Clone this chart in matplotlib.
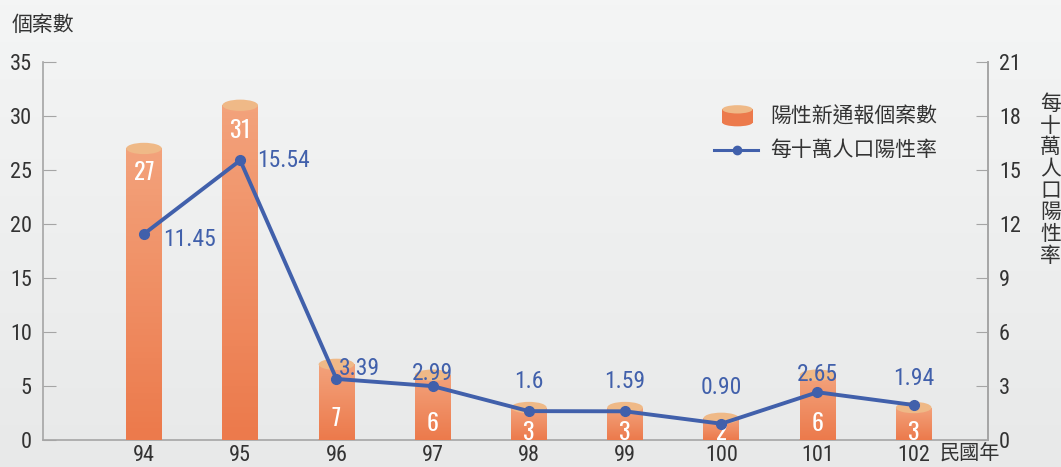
import matplotlib.pyplot as plt
import numpy as np
from matplotlib.colors import LinearSegmentedColormap
from matplotlib.patches import Ellipse, Rectangle
from matplotlib.lines import Line2D

plt.rcParams['font.family'] = ['Noto Sans CJK TC', 'DejaVu Sans']
NUM_FONT = ['Roboto Condensed', 'Archivo Narrow', 'DejaVu Sans']
BAR_FONT = ['Oswald', 'Roboto Condensed', 'Archivo Narrow', 'DejaVu Sans']

years = ['94', '95', '96', '97', '98', '99', '100', '101', '102']
cases = [27, 31, 7, 6, 3, 3, 2, 6, 3]
rate = [11.45, 15.54, 3.39, 2.99, 1.6, 1.59, 0.90, 2.65, 1.94]
rate_labels = ['11.45', '15.54', '3.39', '2.99', '1.6', '1.59', '0.90', '2.65', '1.94']

bar_top = '#efb987'
bar_light = '#f3a27b'
bar_dark = '#ec7a4c'
line_col = '#4160ab'
axis_col = '#a5a5a5'
txt_col = '#333333'

fig = plt.figure(figsize=(10.61, 4.67), dpi=100)
# background gradient
bg = fig.add_axes([0, 0, 1, 1], zorder=-10)
bg.imshow(np.linspace(0, 1, 100).reshape(-1, 1),
          cmap=LinearSegmentedColormap.from_list('bg', ['#f4f5f5', '#e8e9e9']),
          aspect='auto', extent=[0, 1, 0, 1], origin='upper')
bg.axis('off')

ax = fig.add_axes([0.0405, 0.058, 0.8905, 0.809])
ax.patch.set_alpha(0)
x = np.arange(len(years))
w = 0.37
eh = 1.05
grad = LinearSegmentedColormap.from_list('bar', [bar_dark, bar_light])
label_y = {27: 24.8, 31: 28.7, 7: 2.0, 6: 1.5, 3: 0.65, 2: 0.65}

for xi, v in zip(x, cases):
    ax.add_patch(Ellipse((xi, 0), w, eh, color=bar_dark, zorder=3, lw=0))
    rect = Rectangle((xi - w / 2, 0), w, v, lw=0, facecolor='none')
    ax.add_patch(rect)
    im = ax.imshow(np.linspace(0, 1, 50).reshape(-1, 1), cmap=grad, aspect='auto',
                   extent=[xi - w / 2, xi + w / 2, 0, v], origin='lower', zorder=3)
    im.set_clip_path(rect)
    ax.add_patch(Ellipse((xi, v), w, eh, color=bar_top, zorder=4, lw=0))
    ax.text(xi, label_y[v], str(v), color='white', ha='center', va='center',
            fontsize=17, fontweight='bold', family=BAR_FONT, zorder=5)

ax.set_xlim(-1.05, 8.77)
ax.set_ylim(0, 35)
ax.set_yticks(range(0, 36, 5))
ax.set_xticks(x)
ax.set_xticklabels(years)
ax.spines['top'].set_visible(False)
for s in ['left', 'right', 'bottom']:
    ax.spines[s].set_color(axis_col)
    ax.spines[s].set_linewidth(1.2)
ax.tick_params(axis='y', direction='in', length=9, color=axis_col, pad=8, labelsize=16, labelcolor=txt_col)
ax.tick_params(axis='x', length=0, pad=4, labelsize=16, labelcolor=txt_col)
for lab in ax.get_xticklabels() + ax.get_yticklabels():
    lab.set_family(NUM_FONT)

ax2 = ax.twinx()
ax2.set_ylim(0, 21)
ax2.set_yticks(range(0, 22, 3))
for s in ['top', 'left', 'bottom']:
    ax2.spines[s].set_visible(False)
ax2.spines['right'].set_color(axis_col)
ax2.spines['right'].set_linewidth(1.2)
ax2.tick_params(axis='y', direction='in', length=9, color=axis_col, pad=8, labelsize=16, labelcolor=txt_col)
for lab in ax2.get_yticklabels():
    lab.set_family(NUM_FONT)
ax2.plot(x, rate, color=line_col, lw=2.8, marker='o', ms=7, zorder=6)

offsets = [(0.2, 'left', -0.3), (0.18, 'left', 0.0), (0.03, 'left', 0.6), (0, 'center', 0.7),
           (0, 'center', 1.65), (0, 'center', 1.65), (0, 'center', 2.0), (0, 'center', 1.0),
           (0, 'center', 1.5)]
for xi, r, lab, (dx, ha, dy) in zip(x, rate, rate_labels, offsets):
    ax2.text(xi + dx, r + dy, lab, color=line_col, ha=ha, va='center',
             fontsize=17, family=NUM_FONT, zorder=7)

# legend
lx, ly = 0.735, 0.875
ax.add_patch(Rectangle((lx - 0.016, ly - 0.035), 0.032, 0.035, transform=ax.transAxes,
                       color=bar_dark, lw=0, zorder=5, clip_on=False))
ax.add_patch(Ellipse((lx, ly - 0.035), 0.032, 0.02, transform=ax.transAxes,
                     color=bar_dark, lw=0, zorder=5, clip_on=False))
ax.add_patch(Ellipse((lx, ly), 0.032, 0.022, transform=ax.transAxes,
                     color=bar_top, lw=0, zorder=6, clip_on=False))
ax.text(lx + 0.035, ly - 0.02, '陽性新通報個案數', transform=ax.transAxes, fontsize=15,
        color=txt_col, va='center')
ax.add_line(Line2D([lx - 0.025, lx + 0.022], [ly - 0.107, ly - 0.107], transform=ax.transAxes,
                   color=line_col, lw=2.2, zorder=6))
ax.add_line(Line2D([lx], [ly - 0.107], transform=ax.transAxes, color=line_col, marker='o', ms=6, zorder=6))
ax.text(lx + 0.035, ly - 0.107, '每十萬人口陽性率', transform=ax.transAxes, fontsize=15,
        color=txt_col, va='center')

fig.text(0.011, 0.946, '個案數', fontsize=15, color=txt_col, va='center')
fig.text(0.886, 0.004, '民國年', fontsize=14.5, color=txt_col, va='bottom')
fig.text(0.99, 0.615, '\n'.join('每十萬人口陽性率'), fontsize=15, color=txt_col,
         va='center', ha='center', linespacing=0.98)

fig.savefig('out.png', dpi=100, facecolor=fig.get_facecolor())
